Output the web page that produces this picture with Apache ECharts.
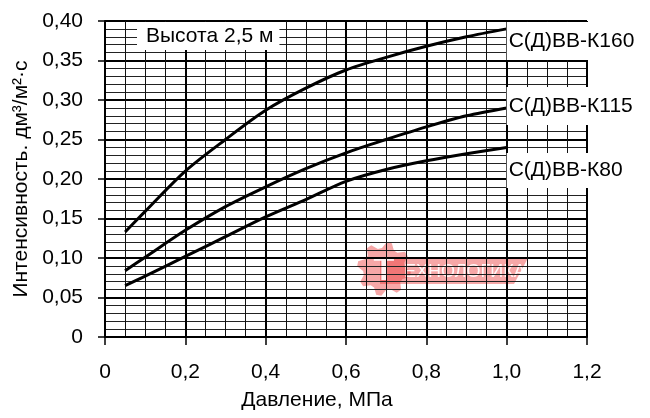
<!DOCTYPE html>
<html>
<head>
<meta charset="utf-8">
<script src="https://cdn.jsdelivr.net/npm/echarts@6/dist/echarts.min.js"></script>
<style>html,body{margin:0;padding:0;background:#fff}#c{width:650px;height:418px}</style>
</head>
<body>
<div id="c"></div>
<script>
// Data
var pressure = [0.05, 0.1, 0.2, 0.3, 0.4, 0.5, 0.6, 0.7, 0.8, 0.9, 1.0];
var k160 = [0.133, 0.159, 0.210, 0.250, 0.287, 0.315, 0.338, 0.354, 0.368, 0.380, 0.390];
var k115 = [0.084, 0.101, 0.135, 0.165, 0.190, 0.213, 0.233, 0.250, 0.266, 0.280, 0.290];
var k80  = [0.065, 0.077, 0.102, 0.127, 0.152, 0.174, 0.197, 0.212, 0.223, 0.232, 0.240];
var seriesNames = ['С(Д)ВВ-К160', 'С(Д)ВВ-К115', 'С(Д)ВВ-К80'];
var xTickLabels = ['0', '0,2', '0,4', '0,6', '0,8', '1,0', '1,2'];
var yTickLabels = ['0', '0,05', '0,10', '0,15', '0,20', '0,25', '0,30', '0,35', '0,40'];
var titleText = 'Высота 2,5 м';
var xName = 'Давление, МПа';
var yName = 'Интенсивность. дм³/м²·с';
var watermarkText = 'ЕХНОЛОГИКА';

function pairs(xs, ys) { return xs.map(function (x, i) { return [x, ys[i]]; }); }

var FONT = 'Liberation Sans';
var FS = 21;
var chart = echarts.init(document.getElementById('c'), null, { renderer: 'canvas' });

function endLbl(offsetY, pad) {
  return {
    show: true,
    formatter: '{a}',
    color: '#000',
    fontFamily: FONT,
    fontSize: FS,
    lineHeight: FS,
    backgroundColor: '#fff',
    padding: pad,
    distance: 0,
    offset: [0, offsetY]
  };
}

// gear outline for the watermark logo
function gearPoints(cx, cy, rOut, rIn, teeth) {
  var pts = [];
  var n = teeth * 4;
  for (var i = 0; i < n; i++) {
    var a = (i / n) * Math.PI * 2 + Math.PI / n;
    var r = (i % 4 === 0 || i % 4 === 1) ? rOut : rIn;
    pts.push([cx + r * Math.cos(a), cy + r * Math.sin(a)]);
  }
  return pts;
}
var WM = 'rgba(235,60,60,0.45)';

function lineSeries(name, ys, lbl) {
  return {
    name: name, type: 'line', data: pairs(pressure, ys), smooth: 0.3,
    symbol: 'none', lineStyle: { color: '#000', width: 3 }, z: 5, endLabel: lbl
  };
}

var option = {
  animation: false,
  backgroundColor: '#fff',
  title: {
    text: titleText,
    left: 137,
    top: 22,
    padding: [4, 6, 3, 9],
    backgroundColor: '#fff',
    textStyle: { fontFamily: FONT, fontSize: FS, fontWeight: 'normal', color: '#000', lineHeight: FS }
  },
  grid: { left: 105, right: 63, top: 21, bottom: 81, outerBoundsMode: 'none' },
  xAxis: {
    type: 'value', min: 0, max: 1.2, interval: 0.2,
    name: xName, nameLocation: 'middle', nameGap: 53,
    nameTextStyle: { fontFamily: FONT, fontSize: FS, color: '#000', padding: [0, 58, 0, 0] },
    axisLine: { show: true, lineStyle: { color: '#000', width: 2 } },
    axisTick: { show: true, length: 8, lineStyle: { color: '#000', width: 1.5 } },
    axisLabel: {
      margin: 25, fontFamily: FONT, fontSize: FS, color: '#000',
      formatter: function (v) { return xTickLabels[Math.round(v / 0.2)]; }
    },
    splitLine: { show: true, lineStyle: { color: '#000', width: 2 } },
    minorTick: { show: false, splitNumber: 4 },
    minorSplitLine: { show: true, lineStyle: { color: '#111', width: 1 } }
  },
  yAxis: {
    type: 'value', min: 0, max: 0.4, interval: 0.05,
    name: yName, nameLocation: 'middle', nameGap: 70,
    nameTextStyle: { fontFamily: FONT, fontSize: FS, color: '#000' },
    axisLine: { show: true, lineStyle: { color: '#000', width: 2 } },
    axisTick: { show: true, length: 7, lineStyle: { color: '#000', width: 1.5 } },
    axisLabel: {
      margin: 22, fontFamily: FONT, fontSize: FS, color: '#000',
      formatter: function (v) { return yTickLabels[Math.round(v / 0.05)]; }
    },
    splitLine: { show: true, lineStyle: { color: '#000', width: 2 } },
    minorTick: { show: false, splitNumber: 5 },
    minorSplitLine: { show: true, lineStyle: { color: '#222', width: 1 } }
  },
  graphic: [
    {
      type: 'group', z: 100, silent: true,
      children: [
        { type: 'polygon', shape: { points: [[380, 258], [528, 258], [514, 284], [380, 284]] },
          style: { fill: WM } },
        { type: 'polygon', shape: { points: gearPoints(384, 269, 27, 21, 8) }, style: { fill: WM } },
        { type: 'text', x: 384, y: 271, style: { text: 'Т', fontFamily: FONT, fontSize: 34, fontWeight: 'bold', fill: 'rgba(255,255,255,0.9)', align: 'center', verticalAlign: 'middle' } },
        { type: 'text', x: 404, y: 272, style: { text: watermarkText, fontFamily: FONT, fontSize: 18, fill: 'rgba(255,255,255,0.9)', align: 'left', verticalAlign: 'middle' } }
      ]
    }
  ],
  series: [
    lineSeries(seriesNames[0], k160, endLbl(12, [7, 40, 10, 2])),
    lineSeries(seriesNames[1], k115, endLbl(-2, [4, 40, 13, 2])),
    lineSeries(seriesNames[2], k80, endLbl(23, [5, 40, 9, 2]))
  ]
};
chart.setOption(option);
</script>
</body>
</html>
